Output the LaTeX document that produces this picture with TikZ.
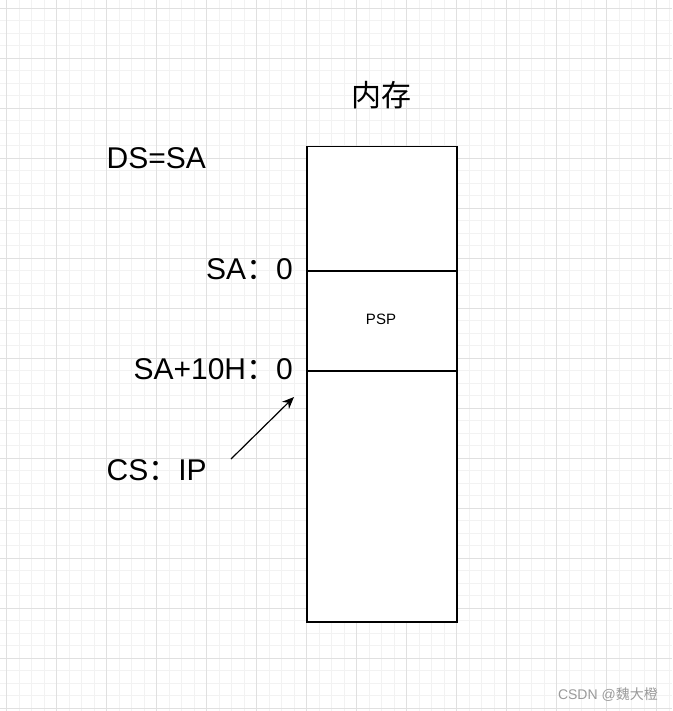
\documentclass[tikz,border=0pt]{standalone}
\usepackage{fontspec}
\setmainfont{Liberation Sans}
\newfontfamily\cjk{Noto Sans CJK SC}
\usetikzlibrary{arrows.meta}
\definecolor{gridminor}{HTML}{F2F2F2}
\definecolor{gridmajor}{HTML}{E0E0E0}
\definecolor{wmark}{HTML}{9A9A9A}
\tikzset{
  big/.style={font=\fontsize{30pt}{34pt}\selectfont, inner sep=0pt},
  small/.style={font=\fontsize{15pt}{18pt}\selectfont, inner sep=0pt},
  mem/.style={draw=black, line width=1.5pt, fill=white},
  divider/.style={draw=black, line width=1.2pt},
  pointer/.style={draw=black, line width=1.2pt, -{Stealth[length=12pt,width=10pt]}},
}
\begin{document}
\begin{tikzpicture}[x=1pt,y=-1pt]
\useasboundingbox (0,0) rectangle (672,711);
\fill[white] (0,0) rectangle (672,711);
% grid
\foreach \k in {0,...,53} {
  \draw[gridminor, line width=0.8pt] ({6.7+12.5*\k},0) -- ({6.7+12.5*\k},711);
}
\foreach \k in {0,...,56} {
  \draw[gridminor, line width=0.8pt] (0,{8.3+12.5*\k}) -- (672,{8.3+12.5*\k});
}
\foreach \k in {0,...,13} {
  \draw[gridmajor, line width=0.9pt] ({6.7+50*\k},0) -- ({6.7+50*\k},711);
}
\foreach \k in {0,...,14} {
  \draw[gridmajor, line width=0.9pt] (0,{8.3+50*\k}) -- (672,{8.3+50*\k});
}
% memory box
\node[mem, minimum width=150pt, minimum height=475pt, inner sep=0pt, anchor=north west] (box) at (306,146) {};
\coordinate (d1l) at (306,271);
\coordinate (d1r) at (456,271);
\coordinate (d2l) at (306,371);
\coordinate (d2r) at (456,371);
\draw[divider] (d1l) -- (d1r);
\draw[divider] (d2l) -- (d2r);
% labels
\node[big, anchor=base] (title) at (381,107) {\cjk 内存};
\node[big, anchor=base west] (ds) at (106.5,168.5) {DS=SA};
\node[big, anchor=base east] (sa) at (293,279.5) {SA{\cjk ：}0};
\node[big, anchor=base east] (sa10) at (293,379.5) {SA+10H{\cjk ：}0};
\node[big, anchor=base west] (csip) at (106.5,480) {CS{\cjk ：}IP};
\node[small, anchor=base] (psp) at (381,324) {PSP};
% arrow
\coordinate (astart) at (231,459);
\coordinate (aend) at (294,397);
\draw[pointer] (astart) -- (aend);
% watermark
\node[anchor=base east, inner sep=0pt, text=wmark, font=\fontsize{14pt}{16pt}\selectfont] (wm) at (658,699.5) {CSDN @{\cjk 魏大橙}};
\end{tikzpicture}
\end{document}
